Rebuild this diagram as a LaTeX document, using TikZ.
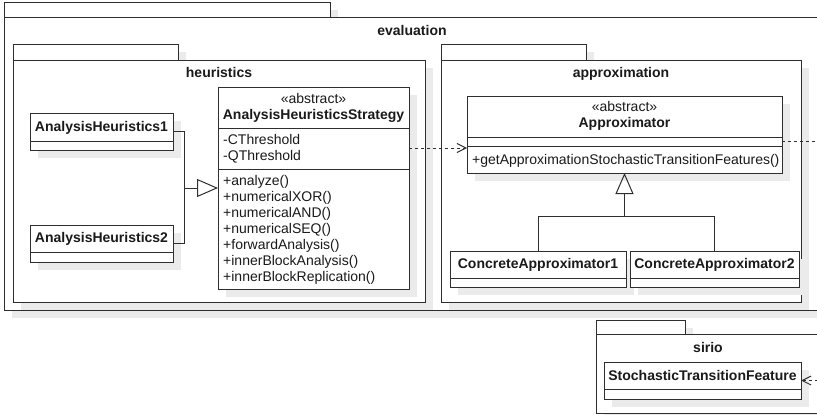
\documentclass[tikz,border=0pt]{standalone}
\usepackage{fontspec}
\setmainfont{Liberation Sans}
\usetikzlibrary{arrows.meta}
\definecolor{umlline}{HTML}{2E2E2E}
\definecolor{umlshadow}{HTML}{EBEBEB}
\definecolor{umltext}{HTML}{1A1A1A}

% shadowed UML rectangle: {name}{left}{top}{width}{height}
\newcommand\UmlBox[5]{%
  \fill[umlshadow] (#2+7.5,#3+7.5) rectangle ++(#4,#5);
  \node[umlbox, minimum width=#4pt, minimum height=#5pt] (#1) at (#2,#3) {};}
% compartment divider, #2 below the top edge of box #1
\newcommand\UmlSep[2]{%
  \draw[umlsep] ([yshift=-#2pt]#1.north west) -- ([yshift=-#2pt]#1.north east);}

\begin{document}
\begin{tikzpicture}[x=1pt,y=-1pt,
  font=\fontsize{14}{16}\selectfont,
  umlbox/.style={rectangle, draw=umlline, line width=1pt, fill=white,
    inner sep=0pt, outer sep=0pt, anchor=north west},
  umlsep/.style={draw=umlline, line width=1pt},
  pkgname/.style={anchor=base, inner sep=0pt, text=umltext,
    font=\fontsize{14}{16}\selectfont\bfseries},
  cname/.style={anchor=base, inner sep=0pt, text=umltext,
    font=\fontsize{14}{16}\selectfont\bfseries},
  stereo/.style={anchor=base, inner sep=0pt, text=umltext},
  member/.style={anchor=base west, inner sep=0pt, text=umltext},
  link/.style={draw=umlline, line width=1pt},
  generalization/.style={link, -{Triangle[open, length=21pt, width=18pt]}},
  dependency/.style={link, dash pattern=on 3pt off 3pt,
    -{Straight Barb[length=9pt, width=9pt]}},
]
\useasboundingbox (0,0) rectangle (817,415);
\clip (0,0) rectangle (817,415);
\fill[white] (0,0) rectangle (817,415);

% package: evaluation
\UmlBox{evalTab}{4}{2}{326}{15}
\UmlBox{evalBody}{4}{17}{816}{293}
\node[pkgname] (evalName) at (412,35) {evaluation};

% package: heuristics
\UmlBox{heurTab}{13}{44}{165}{16}
\UmlBox{heurBody}{13}{60}{412}{242}
\node[pkgname] (heurName) at (219,77.5) {heuristics};

% package: approximation
\UmlBox{apprTab}{441}{44}{145}{16}
\UmlBox{apprBody}{441}{60}{360}{242}
\node[pkgname] (apprName) at (621,77.5) {approximation};

% package: sirio
\UmlBox{sirioTab}{596}{320}{89}{14}
\UmlBox{sirioBody}{596}{334}{224}{79}
\node[pkgname] (sirioName) at (708,352.5) {sirio};

% heuristics classes
\UmlBox{AH1}{30}{113}{143}{37}
\UmlSep{AH1}{28}
\node[cname] (AH1name) at (101.5,131) {AnalysisHeuristics1};

\UmlBox{AH2}{30}{225}{143}{37}
\UmlSep{AH2}{27}
\node[cname] (AH2name) at (101.5,242.5) {AnalysisHeuristics2};

\UmlBox{AHS}{218}{87}{191}{202}
\UmlSep{AHS}{41}
\UmlSep{AHS}{82}
\node[stereo] (AHSstereo) at (313.5,103) {«abstract»};
\node[cname] (AHSname) at (313.5,119.5) {AnalysisHeuristicsStrategy};
\node[member] (AHSattr1) at (223,144.5) {-CThreshold};
\node[member] (AHSattr2) at (223,160) {-QThreshold};
\foreach \m [count=\i from 0] in {+analyze(),+numericalXOR(),+numericalAND(),
    +numericalSEQ(),+forwardAnalysis(),+innerBlockAnalysis(),+innerBlockReplication()}
  \node[member] (AHSop\i) at (223,185+16*\i) {\m};

% approximation classes
\UmlBox{Appr}{467}{96}{315}{77}
\UmlSep{Appr}{41}
\UmlSep{Appr}{50}
\node[stereo] (ApprStereo) at (624.5,111) {«abstract»};
\node[cname] (ApprName) at (624.5,127.5) {Approximator};
\node[member] (ApprOp) at (472,164.5) {+getApproximationStochasticTransitionFeatures()};

\UmlBox{CA1}{450}{251}{176}{36}
\UmlSep{CA1}{27}
\node[cname] (CA1name) at (538,268) {ConcreteApproximator1};

\UmlBox{CA2}{630}{251}{169}{36}
\UmlSep{CA2}{27}
\node[cname] (CA2name) at (714.5,268) {ConcreteApproximator2};

% sirio class
\UmlBox{STF}{604}{362}{197}{37}
\UmlSep{STF}{27}
\node[cname] (STFname) at (702.5,380.5) {StochasticTransitionFeature};

% generalizations
\coordinate (heurJoin) at (184,188);
\draw[link] (AH1.east) -| (heurJoin);
\draw[link] (AH2.east) -| (heurJoin);
\draw[generalization] (heurJoin) -- (AHS.west);

\coordinate (apprJoin) at (624.5,216);
\draw[link] (CA1.north) |- (apprJoin);
\draw[link] (CA2.north) |- (apprJoin);
\draw[generalization] (apprJoin) -- (Appr.south);

% dependencies
\coordinate (depA) at ([yshift=-61pt]AHS.north east);
\draw[dependency] (depA) -- (depA -| Appr.west);
\coordinate (depB) at ([yshift=-45pt]Appr.north east);
\draw[dependency] (depB) -- ++(45,0) |- (STF.east);
\end{tikzpicture}
\end{document}
